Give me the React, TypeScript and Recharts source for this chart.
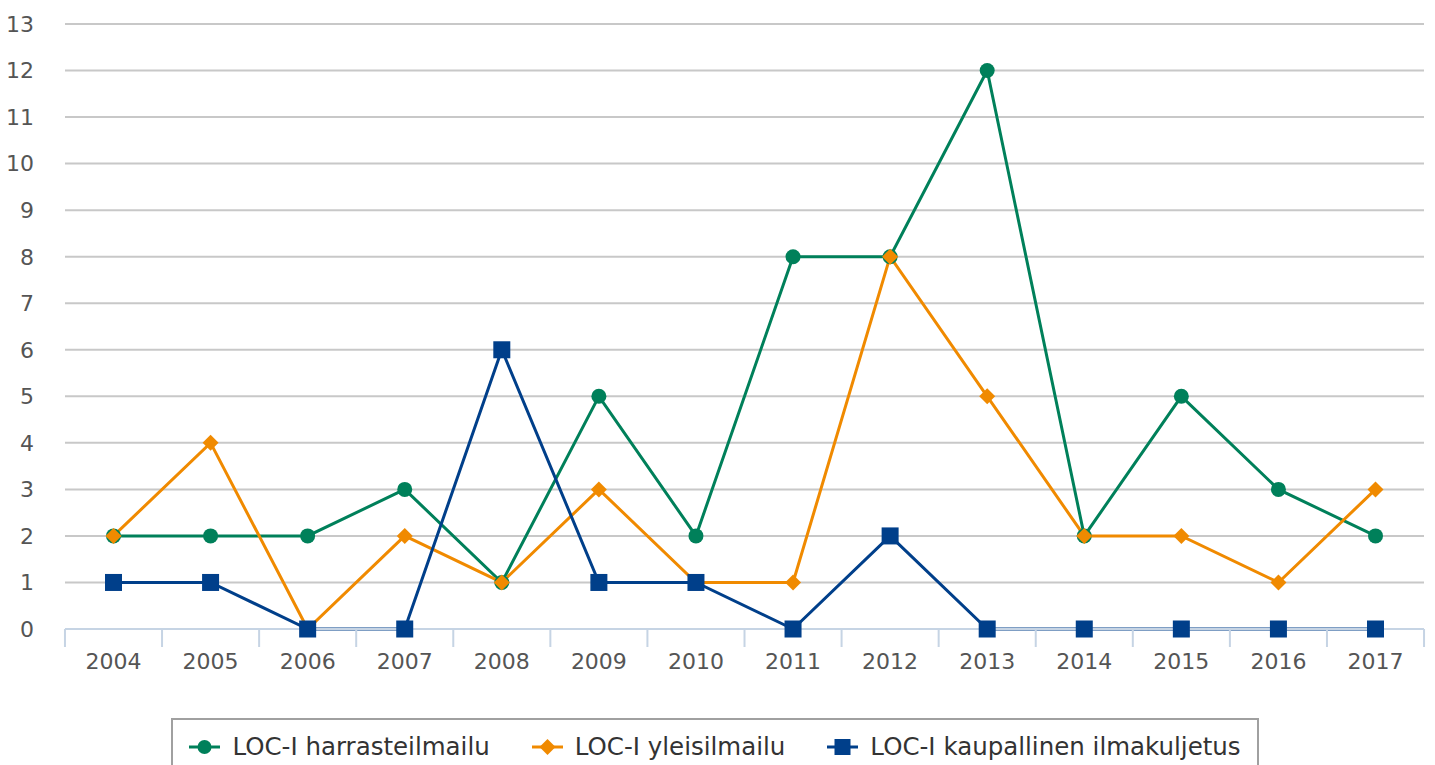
import React from "react";
import { LineChart, Line, XAxis, YAxis, CartesianGrid } from "recharts";

const years = ["2004","2005","2006","2007","2008","2009","2010","2011","2012","2013","2014","2015","2016","2017"];
const harrasteilmailu = [2,2,2,3,1,5,2,8,8,12,2,5,3,2];
const yleisilmailu = [2,4,0,2,1,3,1,1,8,5,2,2,1,3];
const kaupallinen = [1,1,0,0,6,1,1,0,2,0,0,0,0,0];
const yTicks = [0,1,2,3,4,5,6,7,8,9,10,11,12,13];
const seriesNames = ["LOC-I harrasteilmailu","LOC-I yleisilmailu","LOC-I kaupallinen ilmakuljetus"];
const colors = ["#00805a","#f08a00","#003f8a"];

const data = years.map((y, i) => ({
  year: y,
  harr: harrasteilmailu[i],
  yleis: yleisilmailu[i],
  kaup: kaupallinen[i],
}));

const FONT = "'DejaVu Sans', Verdana, sans-serif";
const HALF_BAND = 48.5;

const CircleDot = (p: any) => (
  <circle key={"c" + p.index} cx={p.cx} cy={p.cy} r={7.5} fill={colors[0]} />
);
const DiamondDot = (p: any) => (
  <path key={"d" + p.index} d={`M${p.cx},${p.cy - 8} L${p.cx + 8},${p.cy} L${p.cx},${p.cy + 8} L${p.cx - 8},${p.cy} Z`} fill={colors[1]} />
);
const SquareDot = (p: any) => (
  <rect key={"s" + p.index} x={p.cx - 8.5} y={p.cy - 8.5} width={17} height={17} fill={colors[2]} />
);

const XTick = (props: any) => {
  const { x, y, payload, index, visibleTicksCount, width } = props;
  const half = width && visibleTicksCount ? width / visibleTicksCount / 2 : HALF_BAND;
  const last = index === visibleTicksCount - 1;
  return (
    <g>
      <line x1={x - half} x2={x - half} y1={y} y2={y + 18} stroke="#c6d4e4" strokeWidth={2} />
      {last && <line x1={x + half} x2={x + half} y1={y} y2={y + 18} stroke="#c6d4e4" strokeWidth={2} />}
      <text x={x} y={y + 32} textAnchor="middle" dominantBaseline="central" fill="#555" fontSize={22} fontFamily={FONT}>
        {payload.value}
      </text>
    </g>
  );
};

const LegendIcon = ({ i }: { i: number }) => (
  <svg width={31} height={20} style={{ display: "block" }}>
    <line x1={0} x2={31} y1={10} y2={10} stroke={colors[i]} strokeWidth={3} />
    {i === 0 && <circle cx={15.5} cy={10} r={7} fill={colors[0]} />}
    {i === 1 && <path d="M15.5,2 L23.5,10 L15.5,18 L7.5,10 Z" fill={colors[1]} />}
    {i === 2 && <rect x={7.5} y={2} width={16} height={16} fill={colors[2]} />}
  </svg>
);

export default function App() {
  return (
    <div style={{ position: "absolute", left: 0, top: 0, width: 1435, height: 765, background: "#fff", overflow: "hidden" }}>
      <LineChart width={1435} height={765} data={data} margin={{ top: 24, right: 11, left: 0, bottom: 96 }}>
        <CartesianGrid vertical={false} stroke="#c8c8c8" strokeWidth={2} />
        <XAxis dataKey="year" interval={0} tickSize={0} tickMargin={0} tickLine={false}
          padding={{ left: HALF_BAND, right: HALF_BAND }}
          axisLine={{ stroke: "#c6d4e4", strokeWidth: 2 }} height={40} tick={<XTick />} />
        <YAxis domain={[0, 13]} ticks={yTicks} width={65} tickSize={0} tickMargin={31} axisLine={false} tickLine={false}
          interval={0} tick={{ fill: "#555", fontSize: 22, fontFamily: FONT }} />
        <Line dataKey="harr" stroke={colors[0]} strokeWidth={3} dot={CircleDot} activeDot={false} isAnimationActive={false} />
        <Line dataKey="yleis" stroke={colors[1]} strokeWidth={3} dot={DiamondDot} activeDot={false} isAnimationActive={false} />
        <Line dataKey="kaup" stroke={colors[2]} strokeWidth={3} dot={SquareDot} activeDot={false} isAnimationActive={false} />
      </LineChart>
      <div style={{
        position: "absolute", left: 171, top: 718, width: 1088, height: 70,
        border: "2px solid #a0a0a0", boxSizing: "border-box", display: "flex",
        justifyContent: "center", alignItems: "flex-start", paddingTop: 13, gap: 42,
        fontFamily: FONT, fontSize: 24.5, color: "#333",
      }}>
        {seriesNames.map((n, i) => (
          <div key={n} style={{ display: "flex", alignItems: "center", gap: 12 }}>
            <LegendIcon i={i} />
            <span style={{ whiteSpace: "nowrap", lineHeight: "28px" }}>{n}</span>
          </div>
        ))}
      </div>
    </div>
  );
}
